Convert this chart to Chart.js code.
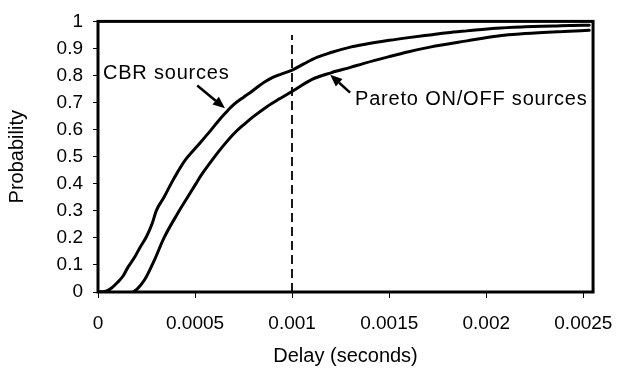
<!DOCTYPE html>
<html>
<head>
<meta charset="utf-8">
<title>Delay distribution</title>
<script src="https://cdn.jsdelivr.net/npm/chart.js@4.4.1/dist/chart.umd.min.js"></script>
<style>
  html, body { margin: 0; padding: 0; background: #fff; }
  #wrap { width: 627px; height: 371px; position: relative; }
</style>
</head>
<body>
<div id="wrap"><canvas id="c"></canvas></div>
<script>
// Cumulative delay distributions (delay in seconds, cumulative probability)
const cbrDelay = [0, 0.00004, 0.00007, 0.0001, 0.00013, 0.000153, 0.00019, 0.000215, 0.00025, 0.00028,
  0.0003, 0.00034, 0.00038, 0.00041, 0.00045, 0.0005, 0.00057, 0.00062, 0.00066, 0.0007,
  0.00075, 0.00079, 0.00083, 0.00086, 0.0009, 0.00095, 0.001, 0.00106, 0.00113, 0.0012, 0.0013, 0.00137,
  0.0015, 0.0016, 0.00171, 0.0018, 0.0019, 0.00205, 0.0022, 0.00235, 0.00243, 0.00253];
const cbrProb = [0, 0.003, 0.015, 0.035, 0.06, 0.09, 0.13, 0.163, 0.205, 0.255,
  0.3, 0.35, 0.405, 0.443, 0.488, 0.53, 0.588, 0.632, 0.664, 0.693,
  0.72, 0.74, 0.762, 0.777, 0.793, 0.807, 0.82, 0.843, 0.868, 0.885, 0.905, 0.915,
  0.93, 0.94, 0.95, 0.958, 0.965, 0.975, 0.98, 0.983, 0.985, 0.986];

const paretoDelay = [0.00018, 0.0002, 0.00024, 0.00029, 0.00034, 0.00041, 0.00047, 0.0005, 0.00053, 0.00058,
  0.00062, 0.00066, 0.0007, 0.00075, 0.0008, 0.00087, 0.00093, 0.00099, 0.00103, 0.0011,
  0.0012, 0.0013, 0.00137, 0.0015, 0.0016, 0.00171, 0.0019, 0.00205, 0.0022, 0.0024, 0.00253];
const paretoProb = [0, 0.01, 0.045, 0.117, 0.2, 0.29, 0.36, 0.395, 0.43, 0.48,
  0.518, 0.553, 0.585, 0.618, 0.648, 0.685, 0.712, 0.737, 0.755, 0.785,
  0.81, 0.83, 0.845, 0.87, 0.888, 0.905, 0.928, 0.945, 0.955, 0.963, 0.967];

// Axis ticks
const xTickValues = [0, 0.0005, 0.001, 0.0015, 0.002, 0.0025];
const xTickLabels = ['0', '0.0005', '0.001', '0.0015', '0.002', '0.0025'];
const yTickValues = [0, 0.1, 0.2, 0.3, 0.4, 0.5, 0.6, 0.7, 0.8, 0.9, 1];
const yTickLabels = ['0', '0.1', '0.2', '0.3', '0.4', '0.5', '0.6', '0.7', '0.8', '0.9', '1'];

// Reference delay marker
const markerDelay = 0.001;
const markerTop = 0.95;

// Callout labels: text anchor and arrow (tail -> head) in data units
const callouts = [
  { text: 'CBR sources', at: [0.0000256, 0.788], tail: [0.000511, 0.763], head: [0.000654, 0.679] },
  { text: 'Pareto ON/OFF sources', at: [0.001324, 0.69], tail: [0.0012986, 0.737], head: [0.001196, 0.803] }
];

const toPoints = (xs, ys) => xs.map((x, i) => ({ x: x, y: ys[i] }));

const FONT = '"Liberation Sans", Arial, sans-serif';

const notesPlugin = {
  id: 'frameAndNotes',
  afterDatasetsDraw(chart) {
    const { ctx, chartArea: a, scales: { x, y } } = chart;
    ctx.save();
    // dashed marker line
    ctx.strokeStyle = '#000';
    ctx.lineWidth = 1.8;
    ctx.setLineDash([9, 5]);
    const mx = Math.round(x.getPixelForValue(markerDelay));
    ctx.beginPath();
    ctx.moveTo(mx, y.getPixelForValue(0));
    ctx.lineTo(mx, y.getPixelForValue(markerTop));
    ctx.stroke();
    ctx.setLineDash([]);

    // plot frame
    ctx.lineWidth = 3;
    ctx.strokeRect(a.left, a.top, a.right - a.left, a.bottom - a.top);

    // callouts
    ctx.fillStyle = '#000';
    ctx.font = '20px ' + FONT;
    ctx.textBaseline = 'alphabetic';
    ctx.textAlign = 'left';
    ctx.letterSpacing = '0.8px';
    callouts.forEach(c => {
      ctx.fillText(c.text, x.getPixelForValue(c.at[0]), y.getPixelForValue(c.at[1]));
      const tx = x.getPixelForValue(c.tail[0]), ty = y.getPixelForValue(c.tail[1]);
      const hx = x.getPixelForValue(c.head[0]), hy = y.getPixelForValue(c.head[1]);
      const ang = Math.atan2(hy - ty, hx - tx);
      const len = 12, half = 5;
      const bx = hx - len * Math.cos(ang), by = hy - len * Math.sin(ang);
      ctx.lineWidth = 2.5;
      ctx.beginPath();
      ctx.moveTo(tx, ty);
      ctx.lineTo(bx, by);
      ctx.stroke();
      ctx.beginPath();
      ctx.moveTo(hx, hy);
      ctx.lineTo(bx + half * Math.sin(ang), by - half * Math.cos(ang));
      ctx.lineTo(bx - half * Math.sin(ang), by + half * Math.cos(ang));
      ctx.closePath();
      ctx.fill();
    });
    ctx.restore();
  }
};

const curveStyle = {
  showLine: true, borderColor: '#000', borderWidth: 3, pointRadius: 0,
  cubicInterpolationMode: 'monotone', borderJoinStyle: 'round', borderCapStyle: 'round'
};

new Chart(document.getElementById('c'), {
  type: 'scatter',
  data: {
    datasets: [
      Object.assign({ label: 'CBR sources', data: toPoints(cbrDelay, cbrProb) }, curveStyle),
      Object.assign({ label: 'Pareto ON/OFF sources', data: toPoints(paretoDelay, paretoProb) }, curveStyle)
    ]
  },
  options: {
    responsive: true,
    maintainAspectRatio: false,
    animation: false,
    layout: { padding: { top: 18, right: 30, left: 0, bottom: 0 } },
    plugins: { legend: { display: false }, tooltip: { enabled: false } },
    scales: {
      x: {
        type: 'linear', min: 0, max: 0.00255,
        afterBuildTicks: s => { s.ticks = xTickValues.map(v => ({ value: v })); },
        afterFit: s => { s.height = 79; },
        border: { display: false },
        grid: { drawOnChartArea: false, drawTicks: true, tickLength: 6, color: '#000', lineWidth: 1 },
        ticks: { color: '#000', padding: 14, maxRotation: 0, autoSkip: false,
          font: { family: FONT, size: 19 },
          callback: (v) => { const i = xTickValues.indexOf(v); return i >= 0 ? xTickLabels[i] : ''; } },
        title: { display: true, text: 'Delay (seconds)', color: '#000',
          font: { family: FONT, size: 20 }, padding: { top: 4, bottom: 3 } }
      },
      y: {
        type: 'linear', min: 0, max: 1,
        afterBuildTicks: s => { s.ticks = yTickValues.map(v => ({ value: v })); },
        afterFit: s => { s.width = 98; },
        border: { display: false },
        grid: { drawOnChartArea: false, drawTicks: true, tickLength: 5, color: '#000', lineWidth: 1 },
        ticks: { color: '#000', padding: 10, autoSkip: false,
          font: { family: FONT, size: 19 },
          callback: (v) => { const i = yTickValues.indexOf(v); return i >= 0 ? yTickLabels[i] : ''; } },
        title: { display: true, text: 'Probability', color: '#000',
          font: { family: FONT, size: 20 }, padding: { top: 5, bottom: 4 } }
      }
    }
  },
  plugins: [notesPlugin]
});
</script>
</body>
</html>
